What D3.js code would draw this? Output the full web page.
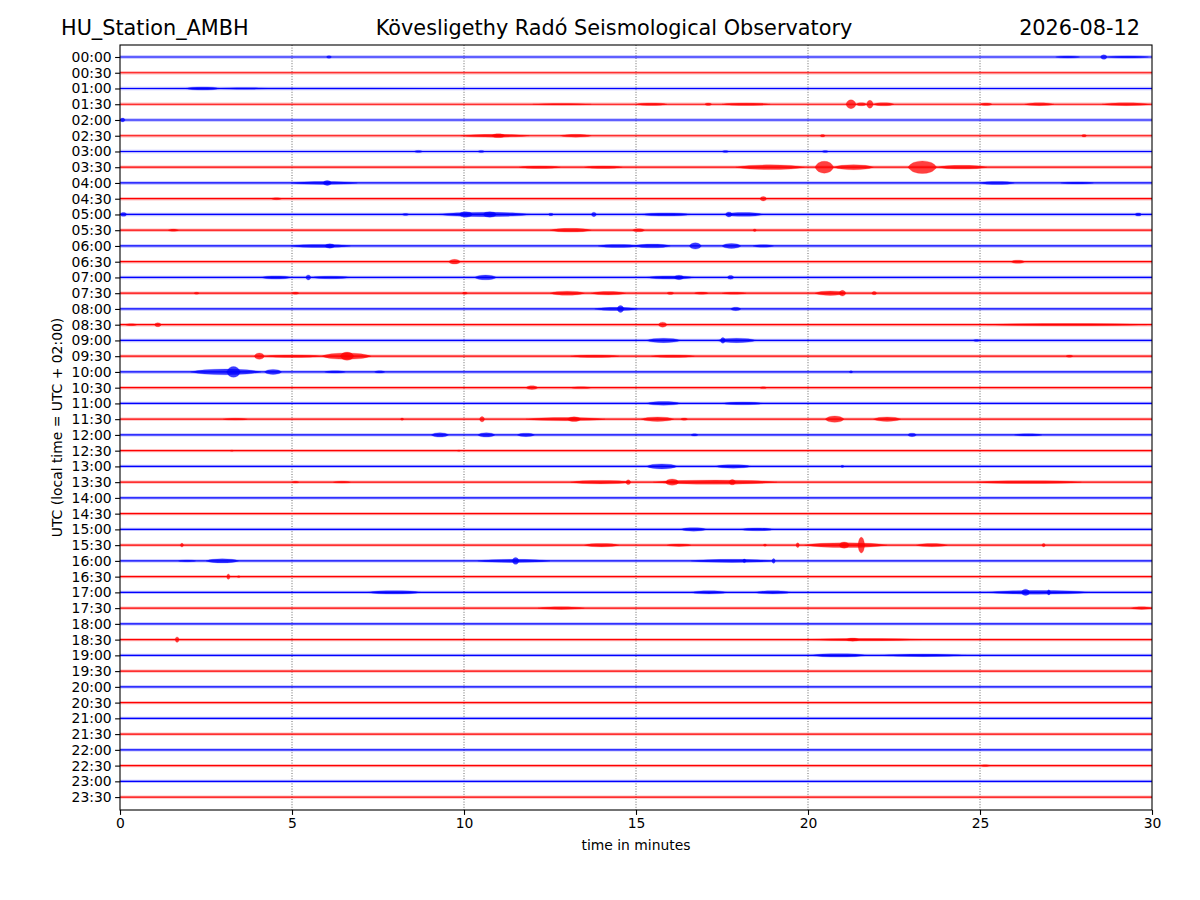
<!DOCTYPE html>
<html>
<head>
<meta charset="utf-8">
<script src="https://cdn.jsdelivr.net/npm/d3@7"></script>
<style>
body { margin: 0; background: #fff; }
text { font-family: "DejaVu Sans", sans-serif; }
</style>
</head>
<body>
<div id="chart"></div>
<script>
var stationName = "HU_Station_AMBH",
    observatory = "Kövesligethy Radó Seismological Observatory",
    dayLabel = "2026-08-12";

var rowLabels = ["00:00","00:30","01:00","01:30","02:00","02:30","03:00","03:30",
    "04:00","04:30","05:00","05:30","06:00","06:30","07:00","07:30",
    "08:00","08:30","09:00","09:30","10:00","10:30","11:00","11:30",
    "12:00","12:30","13:00","13:30","14:00","14:30","15:00","15:30",
    "16:00","16:30","17:00","17:30","18:00","18:30","19:00","19:30",
    "20:00","20:30","21:00","21:30","22:00","22:30","23:00","23:30"];

var minuteTicks = [0, 5, 10, 15, 20, 25, 30];
var gridMinutes = [5, 10, 15, 20, 25];
var traceColors = ["#0000ff", "#ff0000"];

// wave bursts: [start minute, end minute, half amplitude in row units]
var bursts = [
    [[6.0,6.15,0.08],[27.2,27.9,0.07],[28.5,28.7,0.14],[28.7,29.9,0.07]],
    [],
    [[1.9,2.9,0.1],[2.9,4.3,0.05],[0.5,9.0,0.035]],
    [[12.0,13.7,0.05],[15.0,15.9,0.08],[17.0,17.2,0.08],[17.5,18.9,0.08],[21.1,21.4,0.28],[21.4,21.7,0.1],[21.7,21.9,0.25],[21.9,22.5,0.1],[25.0,25.35,0.08],[26.3,27.15,0.09],[28.55,29.95,0.09]],
    [[0.0,0.15,0.12]],
    [[9.9,11.9,0.09],[10.8,11.2,0.12],[12.8,13.7,0.09],[20.35,20.5,0.08],[27.95,28.1,0.08]],
    [[8.55,8.8,0.07],[10.4,10.6,0.07],[17.5,17.7,0.06],[20.4,20.6,0.06]],
    [[11.6,12.8,0.08],[13.5,14.6,0.08],[17.9,19.9,0.15],[20.2,20.75,0.38],[20.75,21.9,0.16],[22.9,23.75,0.4],[23.75,25.2,0.12]],
    [[4.97,6.9,0.09],[5.9,6.15,0.16],[25.0,26.0,0.1],[27.35,28.3,0.06]],
    [[4.4,4.7,0.06],[18.6,18.8,0.14]],
    [[0.0,0.2,0.12],[8.2,8.4,0.06],[9.25,11.95,0.14],[9.85,10.25,0.18],[10.55,10.95,0.18],[12.45,12.6,0.08],[13.7,13.85,0.14],[15.15,16.6,0.1],[17.55,18.7,0.12],[17.6,17.8,0.16],[29.5,29.7,0.1]],
    [[1.4,1.7,0.07],[12.5,13.7,0.12],[14.9,15.25,0.1],[18.4,18.5,0.08]],
    [[4.97,6.7,0.1],[5.95,6.25,0.14],[13.9,15.05,0.1],[14.95,16.0,0.12],[16.55,16.9,0.2],[17.5,18.05,0.16],[18.4,19.0,0.08]],
    [[9.55,9.9,0.15],[25.9,26.3,0.1]],
    [[4.1,4.97,0.1],[5.4,5.55,0.16],[5.55,6.7,0.08],[10.3,10.95,0.15],[15.3,16.7,0.1],[16.1,16.4,0.14],[17.65,17.85,0.12]],
    [[2.15,2.3,0.06],[5.0,5.2,0.07],[9.95,10.1,0.07],[12.5,13.5,0.13],[13.7,14.7,0.11],[15.9,16.1,0.08],[16.7,17.1,0.07],[17.5,18.2,0.06],[20.2,21.1,0.14],[20.9,21.1,0.18],[21.85,22.0,0.1]],
    [[13.8,15.05,0.1],[14.45,14.65,0.22],[17.75,18.05,0.11]],
    [[0.15,0.5,0.06],[1.0,1.2,0.13],[15.65,15.9,0.16],[25.2,29.85,0.07]],
    [[15.3,16.3,0.14],[17.35,18.5,0.14],[17.45,17.6,0.18],[24.8,25.0,0.06]],
    [[3.9,4.2,0.2],[4.2,5.85,0.08],[5.85,7.3,0.2],[6.4,6.8,0.26],[13.1,14.5,0.08],[15.45,16.7,0.08],[27.5,27.7,0.07]],
    [[2.05,4.1,0.18],[3.1,3.5,0.34],[4.2,4.7,0.16],[5.95,6.55,0.07],[7.4,7.7,0.07],[21.2,21.3,0.07]],
    [[11.8,12.15,0.12],[13.1,13.7,0.06],[18.6,18.8,0.06]],
    [[15.3,16.3,0.12],[17.5,18.7,0.09]],
    [[3.0,3.7,0.06],[8.15,8.25,0.07],[10.45,10.6,0.17],[11.8,14.1,0.1],[13.0,13.4,0.15],[15.15,16.1,0.14],[16.3,16.5,0.07],[20.5,21.05,0.2],[21.9,22.7,0.14]],
    [[9.05,9.55,0.14],[10.4,10.9,0.14],[11.55,12.05,0.11],[16.6,16.8,0.07],[22.9,23.15,0.11],[26.0,26.8,0.07]],
    [[3.2,3.3,0.04],[9.8,9.9,0.04]],
    [[15.3,16.2,0.16],[17.3,18.35,0.11],[20.95,21.05,0.07]],
    [[5.0,5.2,0.06],[6.2,6.7,0.06],[13.1,14.85,0.11],[14.7,14.85,0.15],[15.5,19.1,0.13],[15.85,16.25,0.2],[17.7,17.9,0.17],[24.9,27.95,0.09]],
    [],
    [],
    [[16.3,17.05,0.11],[18.05,19.0,0.09]],
    [[1.75,1.85,0.12],[13.5,14.5,0.11],[15.9,16.6,0.08],[18.7,18.8,0.07],[19.65,19.75,0.15],[19.9,22.3,0.15],[20.9,21.2,0.2],[21.45,21.65,0.5],[23.15,24.05,0.1],[26.8,26.9,0.11]],
    [[1.7,2.2,0.06],[2.5,3.45,0.13],[10.4,12.5,0.1],[11.4,11.6,0.22],[16.6,19.0,0.1],[18.1,18.2,0.12],[18.95,19.05,0.15]],
    [[3.1,3.2,0.17],[3.4,3.5,0.06]],
    [[7.2,8.75,0.11],[16.6,17.65,0.1],[18.45,19.5,0.1],[25.2,28.2,0.12],[26.2,26.45,0.2],[26.95,27.05,0.17]],
    [[12.15,13.5,0.08],[29.4,30.0,0.08]],
    [],
    [[1.6,1.72,0.17],[20.0,23.3,0.07],[21.1,21.5,0.1]],
    [[20.1,21.7,0.11],[22.1,24.6,0.08]],
    [], [], [], [], [], [],
    [[25.0,25.3,0.05]],
    [], []
];

var W = 1200, H = 900,
    plot = { left: 120, right: 1152, top: 45, bottom: 810 };

var svg = d3.select("#chart").append("svg")
    .attr("width", W)
    .attr("height", H);

var x = d3.scaleLinear()
    .domain([0, 30])
    .range([plot.left, plot.right]);

var y = d3.scaleLinear()
    .domain([-0.762, 47.82])
    .range([plot.top, plot.bottom]);

var rowH = y(1) - y(0);

// dotted minute grid
svg.append("g")
    .selectAll("line")
    .data(gridMinutes)
    .enter()
    .append("line")
    .attr("x1", d => x(d))
    .attr("x2", d => x(d))
    .attr("y1", plot.top)
    .attr("y2", plot.bottom)
    .attr("stroke", "#444")
    .attr("stroke-width", 0.8)
    .attr("stroke-dasharray", "1,1.6");

var traces = svg.append("g")
    .selectAll("g")
    .data(rowLabels)
    .enter()
    .append("g");

// faint noise band + trace line
traces.append("line")
    .attr("x1", x(0))
    .attr("x2", x(30))
    .attr("y1", (d, i) => y(i))
    .attr("y2", (d, i) => y(i))
    .attr("stroke", (d, i) => traceColors[i % 2])
    .attr("stroke-opacity", 0.25)
    .attr("stroke-width", 3.4);

traces.append("line")
    .attr("x1", x(0))
    .attr("x2", x(30))
    .attr("y1", (d, i) => y(i))
    .attr("y2", (d, i) => y(i))
    .attr("stroke", (d, i) => traceColors[i % 2])
    .attr("stroke-width", 1.2);

var envelope = d3.area()
    .curve(d3.curveMonotoneX)
    .x(p => x(p[0]))
    .y0(p => p[2] + p[1] * rowH)
    .y1(p => p[2] - p[1] * rowH);

// flattened spindle: taper at both ends, fuller in the middle
traces.each(function (d, i) {
    d3.select(this).selectAll("path")
        .data(bursts[i])
        .enter()
        .append("path")
        .attr("fill", traceColors[i % 2])
        .attr("fill-opacity", 0.75)
        .attr("stroke", traceColors[i % 2])
        .attr("stroke-opacity", 0.35)
        .attr("stroke-width", 0.6)
        .attr("d", b => {
            var w = b[1] - b[0];
            return envelope([
                [b[0], 0, y(i)],
                [b[0] + w * 0.2, b[2] * 0.75, y(i)],
                [b[0] + w * 0.5, b[2], y(i)],
                [b[1] - w * 0.2, b[2] * 0.75, y(i)],
                [b[1], 0, y(i)]
            ]);
        });
});

// frame
svg.append("rect")
    .attr("x", plot.left)
    .attr("y", plot.top)
    .attr("width", plot.right - plot.left)
    .attr("height", plot.bottom - plot.top)
    .attr("fill", "none")
    .attr("stroke", "#000")
    .attr("stroke-width", 1.1);

var yAxis = d3.axisLeft(y)
    .tickValues(d3.range(rowLabels.length))
    .tickFormat(i => rowLabels[i])
    .tickSize(4.9)
    .tickPadding(3.5);

var gy = svg.append("g")
    .attr("transform", "translate(" + plot.left + ",0)")
    .call(yAxis);
gy.select(".domain").remove();
gy.selectAll("text").attr("font-size", "13.9px").attr("font-family", "DejaVu Sans").attr("fill", "#000");
gy.selectAll("line").attr("stroke-width", 1.1);

var xAxis = d3.axisBottom(x)
    .tickValues(minuteTicks)
    .tickFormat(d3.format("d"))
    .tickSize(4.9)
    .tickPadding(3.5);

var gx = svg.append("g")
    .attr("transform", "translate(0," + plot.bottom + ")")
    .call(xAxis);
gx.select(".domain").remove();
gx.selectAll("text").attr("font-size", "13.9px").attr("font-family", "DejaVu Sans").attr("fill", "#000");
gx.selectAll("line").attr("stroke-width", 1.1);

svg.append("text")
    .attr("x", (plot.left + plot.right) / 2)
    .attr("y", 850)
    .attr("text-anchor", "middle")
    .attr("font-size", "13.9px")
    .text("time in minutes");

svg.append("text")
    .attr("transform", "translate(62," + ((plot.top + plot.bottom) / 2) + ") rotate(-90)")
    .attr("text-anchor", "middle")
    .attr("font-size", "13.9px")
    .text("UTC (local time = UTC + 02:00)");

// titles
svg.append("text")
    .attr("x", 61)
    .attr("y", 35)
    .attr("font-size", "20.8px")
    .text(stationName);

svg.append("text")
    .attr("x", 614)
    .attr("y", 35)
    .attr("text-anchor", "middle")
    .attr("font-size", "20.8px")
    .text(observatory);

svg.append("text")
    .attr("x", 1140)
    .attr("y", 35)
    .attr("text-anchor", "end")
    .attr("font-size", "20.8px")
    .text(dayLabel);
</script>
</body>
</html>
